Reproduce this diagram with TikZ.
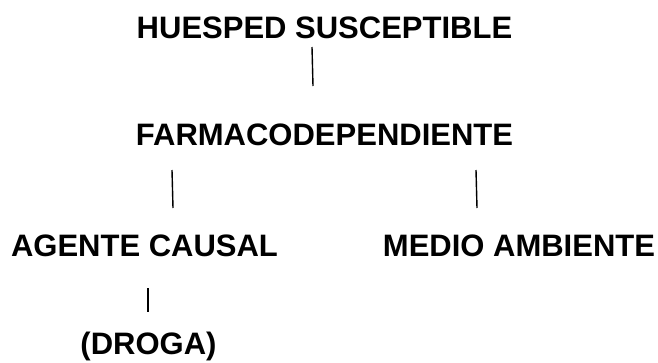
\documentclass[tikz,border=0pt]{standalone}
\usepackage{fontspec}
\setmainfont{Liberation Sans}
\begin{document}
\begin{tikzpicture}[x=1pt,y=-1pt,
  lbl/.style={anchor=base,inner sep=0pt,font=\fontsize{31}{37}\selectfont\bfseries},
  conn/.style={line width=1.4pt,black}]
\useasboundingbox (0,0) rectangle (658,362);
\node[lbl] (h) at (324.5,38) {HUESPED SUSCEPTIBLE};
\node[lbl] (f) at (324.5,145) {FARMACODEPENDIENTE};
\node[lbl] (a) at (144.5,256) {AGENTE CAUSAL};
\node[lbl] (m) at (519,256) {MEDIO AMBIENTE};
\node[lbl] (d) at (148.5,354) {(DROGA)};
\coordinate (h1) at (312,47);
\coordinate (f1) at (313,86);
\coordinate (f2) at (172,170);
\coordinate (a1) at (173,208);
\coordinate (f3) at (476,170);
\coordinate (m1) at (477,208);
\coordinate (a2) at (148,288);
\coordinate (d1) at (148,312);
\draw[conn] (h1) -- (f1);
\draw[conn] (f2) -- (a1);
\draw[conn] (f3) -- (m1);
\draw[conn] (a2) -- (d1);
\end{tikzpicture}
\end{document}
